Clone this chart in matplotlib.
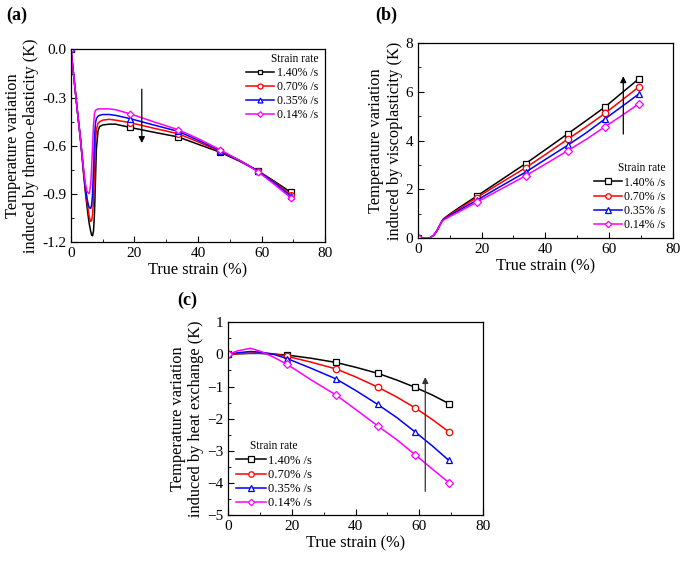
import matplotlib
matplotlib.use("Agg")
import matplotlib.pyplot as plt
from matplotlib.ticker import MultipleLocator

plt.rcParams['font.family'] = ['Liberation Serif', 'DejaVu Serif']

rates = ["1.40% /s", "0.70% /s", "0.35% /s", "0.14% /s"]
colors = ["black", "#ff0000", "#0000ff", "#ff00ff"]
markers = ["s", "o", "^", "D"]

# (a) thermo-elasticity, values
xa = [0, 1, 2, 3, 4, 4.5, 5, 5.5, 5.8, 6.2, 6.5, 6.8, 7.1, 7.4, 7.7, 8, 8.5, 9, 10, 12, 14,
      18.5, 26, 33.8, 40, 47, 53, 58.8, 64, 69.3]
mark_a = [0, 21, 23, 25, 27, 29]
ya = [
    [0, -0.19, -0.38, -0.56, -0.78, -0.88, -0.97, -1.05, -1.09, -1.13, -1.155, -1.16, -1.13, -1.02, -0.82,
     -0.62, -0.51, -0.48, -0.47, -0.465, -0.465, -0.485, -0.515, -0.545, -0.59, -0.64, -0.695, -0.755, -0.82, -0.89],
    [0, -0.19, -0.38, -0.56, -0.77, -0.86, -0.94, -1.01, -1.045, -1.07, -1.065, -1.03, -0.93, -0.76, -0.58,
     -0.50, -0.46, -0.45, -0.44, -0.435, -0.44, -0.455, -0.49, -0.525, -0.575, -0.635, -0.69, -0.755, -0.825, -0.905],
    [0, -0.19, -0.38, -0.56, -0.76, -0.85, -0.92, -0.97, -0.985, -0.99, -0.97, -0.90, -0.74, -0.56, -0.46,
     -0.43, -0.415, -0.41, -0.405, -0.405, -0.41, -0.43, -0.47, -0.51, -0.565, -0.63, -0.69, -0.755, -0.83, -0.915],
    [0, -0.19, -0.38, -0.56, -0.75, -0.83, -0.88, -0.895, -0.895, -0.84, -0.74, -0.60, -0.47, -0.40, -0.38,
     -0.375, -0.37, -0.37, -0.37, -0.37, -0.375, -0.40, -0.45, -0.50, -0.555, -0.625, -0.69, -0.76, -0.84, -0.925],
]

# (b) viscoplasticity
xb = [0, 2, 3, 4, 5, 6, 7, 7.5, 8, 10, 13, 18.5, 26, 33.8, 40, 47, 53, 58.8, 64, 69.3]
mark_b = [0, 11, 13, 15, 17, 19]
yb = [
    [0, -0.02, -0.02, 0.02, 0.12, 0.3, 0.55, 0.68, 0.78, 0.98, 1.25, 1.72, 2.37, 3.05, 3.62, 4.27, 4.83, 5.38, 5.95, 6.52],
    [0, -0.02, -0.02, 0.02, 0.12, 0.3, 0.55, 0.68, 0.77, 0.95, 1.20, 1.66, 2.26, 2.88, 3.42, 4.05, 4.58, 5.12, 5.65, 6.19],
    [0, -0.02, -0.02, 0.02, 0.12, 0.3, 0.55, 0.67, 0.75, 0.92, 1.14, 1.55, 2.12, 2.70, 3.22, 3.80, 4.33, 4.89, 5.39, 5.90],
    [0, -0.02, -0.02, 0.02, 0.12, 0.3, 0.55, 0.66, 0.73, 0.88, 1.08, 1.47, 2.00, 2.55, 3.03, 3.58, 4.06, 4.57, 5.02, 5.50],
]

# (c) heat exchange
xc = [0, 3, 7, 10, 14, 18.5, 26, 33.8, 40, 47, 53, 58.8, 64, 69.3]
mark_c = [0, 5, 7, 9, 11, 13]
yc = [
    [0, 0.02, 0.03, 0.03, 0.01, -0.02, -0.12, -0.25, -0.40, -0.59, -0.80, -1.03, -1.26, -1.53],
    [0, 0.02, 0.04, 0.04, 0.02, -0.06, -0.24, -0.45, -0.70, -1.02, -1.33, -1.67, -2.02, -2.41],
    [0, 0.05, 0.09, 0.07, 0.01, -0.13, -0.43, -0.76, -1.12, -1.56, -1.97, -2.42, -2.84, -3.30],
    [0, 0.11, 0.19, 0.10, -0.07, -0.31, -0.79, -1.26, -1.71, -2.23, -2.66, -3.13, -3.56, -3.99],
]

fig = plt.figure(figsize=(6.85, 5.62), dpi=100)
ax_a = fig.add_axes([0.1036, 0.569, 0.371, 0.343])
ax_b = fig.add_axes([0.610, 0.5765, 0.372, 0.347])
ax_c = fig.add_axes([0.333, 0.0836, 0.372, 0.343])


def draw(ax, x, ys, marks, ms):
    for y, c, m, lab in zip(ys, colors, markers, rates):
        msz = ms - 0.8 if m == "D" else ms
        ax.plot(x, y, color=c, lw=1.1, marker=m, markevery=marks, ms=msz,
                mfc="white", mec=c, mew=0.9, label=lab)
    ax.set_xlim(0, 80)
    ax.xaxis.set_major_locator(MultipleLocator(20))
    ax.xaxis.set_minor_locator(MultipleLocator(10))
    ax.tick_params(which="both", direction="in", top=False, right=False, labelsize=11)
    ax.tick_params(which="major", length=4)
    ax.tick_params(which="minor", length=2.5)
    ax.set_xlabel("True strain (%)", fontsize=11.8, labelpad=2)
    for s in ax.spines.values():
        s.set_linewidth(0.9)


def legend(ax, loc, anchor, size, align):
    ax.legend(loc=loc, bbox_to_anchor=anchor, frameon=False, fontsize=size, markerscale=0.85,
              title="Strain rate", title_fontsize=8.3, handlelength=2.4, labelspacing=0.18,
              handletextpad=0.2, alignment=align, borderaxespad=0.2)


draw(ax_a, xa, ya, mark_a, 4.2)
ax_a.set_ylim(-1.2, 0.0)
ax_a.yaxis.set_major_locator(MultipleLocator(0.3))
ax_a.yaxis.set_minor_locator(MultipleLocator(0.15))
ax_a.set_yticklabels([f"{v:.1f}" for v in ax_a.get_yticks()])
ax_a.set_ylabel("Temperature variation\ninduced by thermo-elasticity (K)", fontsize=11.8, labelpad=2)
ax_a.annotate("", xy=(22.3, -0.6), xytext=(22.3, -0.23),
              arrowprops=dict(arrowstyle="-|>", color="black", lw=0.9, mutation_scale=9))
legend(ax_a, "upper right", (1.0, 1.02), 8.5, "right")

draw(ax_b, xb, yb, mark_b, 4.6)
ax_b.set_ylim(0, 8)
ax_b.yaxis.set_major_locator(MultipleLocator(2))
ax_b.yaxis.set_minor_locator(MultipleLocator(1))
ax_b.set_ylabel("Temperature variation\ninduced by viscoplasticity (K)", fontsize=11.8, labelpad=2)
ax_b.annotate("", xy=(64.5, 6.75), xytext=(64.5, 4.15),
              arrowprops=dict(arrowstyle="-|>", color="black", lw=0.9, mutation_scale=9))
legend(ax_b, "lower right", (1.0, 0.0), 8.5, "right")

draw(ax_c, xc, yc, mark_c, 4.6)
ax_c.set_ylim(-5, 1)
ax_c.yaxis.set_major_locator(MultipleLocator(1))
ax_c.yaxis.set_minor_locator(MultipleLocator(0.5))
ax_c.set_ylabel("Temperature variation\ninduced by heat exchange (K)", fontsize=11.8, labelpad=2)
ax_c.annotate("", xy=(61.9, -0.62), xytext=(61.9, -4.35),
              arrowprops=dict(arrowstyle="-|>", color="#333333", lw=0.9, mutation_scale=9))
legend(ax_c, "lower left", (0.0, -0.01), 9, "center")

fig.text(6 / 685, 1 - 15 / 562, "(a)", fontsize=13, fontweight="bold", va="center")
fig.text(375 / 685, 1 - 15 / 562, "(b)", fontsize=13, fontweight="bold", va="center")
fig.text(177 / 685, 1 - 300 / 562, "(c)", fontsize=13, fontweight="bold", va="center")

fig.savefig("out.png", dpi=100)
